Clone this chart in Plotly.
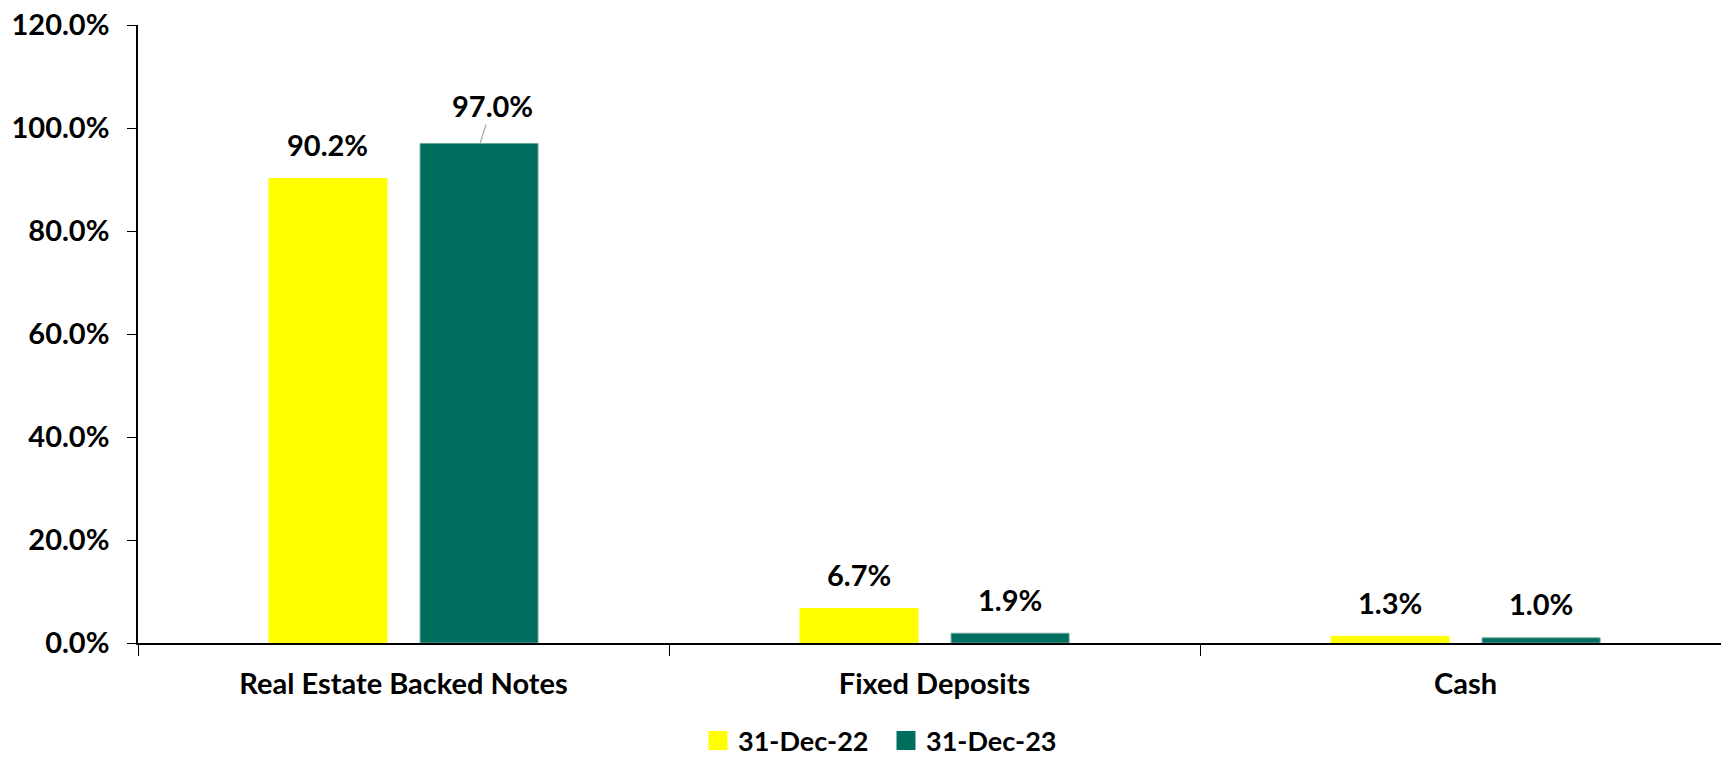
import plotly.graph_objects as go

categories = ["Real Estate Backed Notes", "Fixed Deposits", "Cash"]
series_names = ["31-Dec-22", "31-Dec-23"]
values_2022 = [90.2, 6.7, 1.3]
values_2023 = [97.0, 1.9, 1.0]
y_ticks = [0, 20, 40, 60, 80, 100, 120]

colors = ["#FFFF00", "#006E5F"]
edge_colors = ["#FFFF00", "#6FA89E"]
FONT = "Lato"
FS = 29

W, H = 1721, 759
ML, MR, MT, MB = 138, 0, 25, 116
X_RANGE = [-0.5, 2.481]
BARGAP = 0.431
BARGROUPGAP = 0.219

plot_w = W - ML - MR
plot_h = H - MT - MB
px_per_cat = plot_w / (X_RANGE[1] - X_RANGE[0])
slot = (1 - BARGAP) / 2
offsets_px = [-slot / 2 * px_per_cat, slot / 2 * px_per_cat]

fig = go.Figure()
for name, vals, col, ecol in zip(series_names, [values_2022, values_2023], colors, edge_colors):
    fig.add_trace(go.Bar(x=categories, y=vals, name=name,
                         marker=dict(color=col, line=dict(width=1, color=ecol)),
                         showlegend=False, hoverinfo="skip"))
    fig.add_trace(go.Scatter(x=[None], y=[None], mode="markers", name=name,
                             marker=dict(symbol="square", size=16, color=col,
                                         line=dict(width=3, color=col))))

label_font = dict(family=FONT, size=FS, color="black", weight="bold")
for si, vals in enumerate([values_2022, values_2023]):
    for ci, v in enumerate(vals):
        if si == 1 and ci == 0:
            fig.add_annotation(x=categories[ci], y=v, xref="x", yref="y",
                               text=f"{v:.1f}%", showarrow=True, arrowhead=0,
                               arrowcolor="#A6A6A6", arrowwidth=1.2,
                               ax=12, ay=-38, xshift=offsets_px[si] + 1,
                               font=label_font)
        else:
            fig.add_annotation(x=categories[ci], y=v, xref="x", yref="y",
                               text=f"{v:.1f}%", showarrow=False,
                               xshift=offsets_px[si], yshift=34, yanchor="middle",
                               font=label_font)

fig.update_layout(
    width=W, height=H,
    margin=dict(l=ML, r=MR, t=MT, b=MB, autoexpand=False),
    paper_bgcolor="white", plot_bgcolor="white",
    barmode="group", bargap=BARGAP, bargroupgap=BARGROUPGAP,
    font=dict(family=FONT, size=FS, color="black", weight="bold"),
    legend=dict(orientation="h", x=(886 - ML) / plot_w, xanchor="center",
                y=-(741 - 643) / plot_h, yanchor="middle",
                font=dict(family=FONT, size=27, color="black", weight="bold"),
                itemwidth=30, entrywidth=143, entrywidthmode="pixels",
                bgcolor="rgba(0,0,0,0)"),
    showlegend=True,
)
fig.update_xaxes(range=X_RANGE, showline=True, linecolor="black", linewidth=1.5,
                 ticks="outside", ticklen=11, tickwidth=1.3, tickcolor="black",
                 tickson="boundaries", showgrid=False, zeroline=False,
                 ticklabelstandoff=14, automargin=False, ticklabeloverflow="allow",
                 tickfont=dict(family=FONT, size=FS, color="black", weight="bold"))
fig.update_yaxes(range=[0, 120], tickvals=y_ticks, ticktext=[f"{t:.1f}%" for t in y_ticks],
                 showline=True, linecolor="black", linewidth=1.5,
                 ticks="outside", ticklen=9, tickwidth=1.3, tickcolor="black",
                 showgrid=False, zeroline=False, ticklabelstandoff=12, automargin=False,
                 ticklabeloverflow="allow",
                 tickfont=dict(family=FONT, size=FS, color="black", weight="bold"))

# remove the browser's default 8px page margin so the figure fills the window exactly
fig.write_html("out.html", config={"displayModeBar": False},
               post_script="document.body.style.margin='0';")
